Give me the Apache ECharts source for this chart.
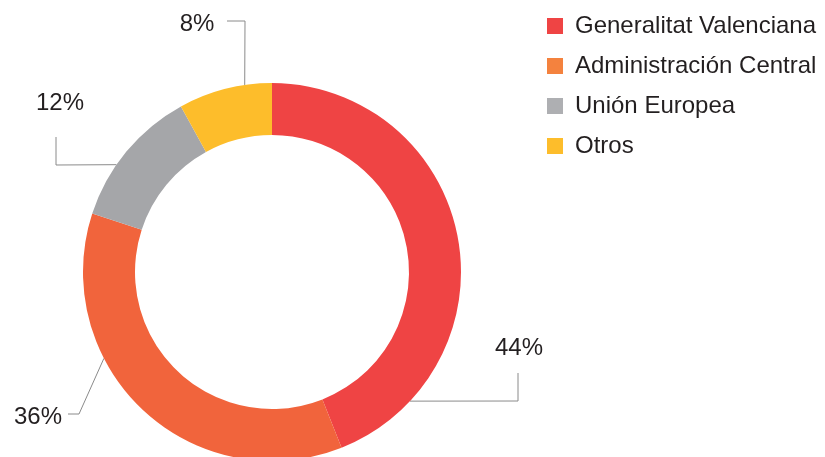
<!DOCTYPE html>
<html>
<head>
<meta charset="utf-8">
<script src="https://cdn.jsdelivr.net/npm/echarts@6/dist/echarts.min.js"></script>
<style>
  html, body { margin: 0; padding: 0; background: #fff; }
  #chart { width: 825px; height: 457px; }
</style>
</head>
<body>
<div id="chart"></div>
<script>
const categories = ["Generalitat Valenciana", "Administración Central", "Unión Europea", "Otros"];
const values = [44, 36, 12, 8];
const colors = ["#EF4444", "#F1643C", "#A5A6A9", "#FDBD2B"];
const legendColors = ["#EF4444", "#F4823E", "#AEAFB2", "#FDBD2B"];

// donut geometry
const cx = 272, cy = 272, rIn = 137, rOut = 189;

// where each percentage label sits and how its guide line bends
// anchor = angle on the outer edge, clockwise from 12 o'clock
const guides = [
  { anchor: 133.1, bends: [[518, 401], [518, 373]], label: [519, 348] },
  { anchor: 242.8, bends: [[79, 414], [68, 414]], label: [38, 417] },
  { anchor: 304.6, bends: [[56, 165], [56, 137]], label: [60, 103] },
  { anchor: 351.7, bends: [[245, 21], [227, 21]], label: [197, 24] }
];

const chart = echarts.init(document.getElementById("chart"));

const anchorPoint = (deg) => {
  const a = deg * Math.PI / 180;
  return [cx + rOut * Math.sin(a), cy - rOut * Math.cos(a)];
};

const option = {
  animation: false,
  legend: {
    orient: "vertical",
    left: 542,
    top: 9,
    icon: "rect",
    itemWidth: 16,
    itemHeight: 16,
    itemGap: 16,
    selectedMode: false,
    textStyle: {
      fontFamily: "Liberation Sans, Arial, sans-serif",
      fontSize: 24,
      lineHeight: 24,
      color: "#231F20",
      padding: [0, 0, 0, 7]
    },
    data: categories.map((name, i) => ({ name, itemStyle: { color: legendColors[i] } }))
  },
  series: [
    {
      type: "pie",
      center: [cx, cy],
      radius: [rIn, rOut],
      startAngle: 90,
      clockwise: true,
      avoidLabelOverlap: false,
      silent: true,
      label: {
        show: true,
        position: "outside",
        formatter: "{c}%",
        fontFamily: "Liberation Sans, Arial, sans-serif",
        fontSize: 24,
        color: "#231F20"
      },
      labelLine: {
        show: true,
        lineStyle: { color: "#8A8A8A", width: 1 }
      },
      labelLayout: (params) => {
        const g = guides[params.dataIndex];
        return {
          x: g.label[0],
          y: g.label[1],
          align: "center",
          verticalAlign: "middle",
          labelLinePoints: [anchorPoint(g.anchor)].concat(g.bends)
        };
      },
      data: categories.map((name, i) => ({
        name,
        value: values[i],
        itemStyle: { color: colors[i] }
      }))
    }
  ]
};

chart.setOption(option);
</script>
</body>
</html>
